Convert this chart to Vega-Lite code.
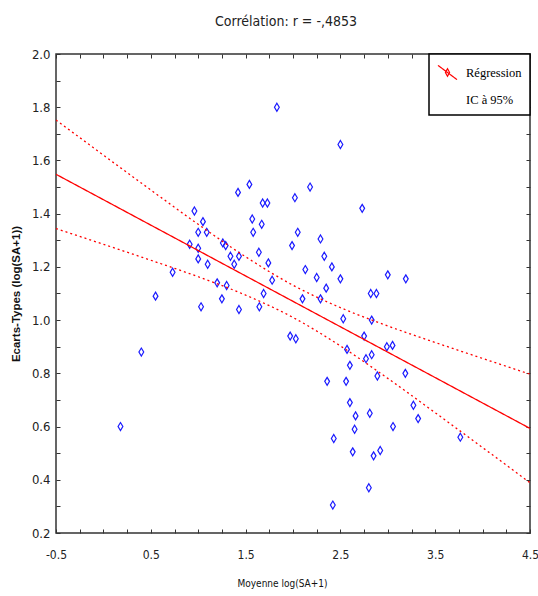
{
  "$schema": "https://vega.github.io/schema/vega-lite/v6.json",
  "width": 474,
  "height": 479,
  "autosize": "none",
  "padding": {"left": 56, "top": 54, "right": 8, "bottom": 63},
  "background": "white",
  "title": {
    "text": "Corrélation: r = -,4853",
    "font": "Liberation Sans Narrow, DejaVu Sans Condensed, sans-serif",
    "fontSize": 14,
    "fontWeight": "normal",
    "color": "#222222",
    "anchor": "middle",
    "baseline": "alphabetic",
    "offset": 8,
    "dx": -7
  },
  "config": {
    "view": {"stroke": "#333333", "strokeWidth": 1.5},
    "axis": {
      "grid": false,
      "domain": false,
      "tickColor": "#333333",
      "tickWidth": 1,
      "labelFont": "Liberation Sans Narrow, DejaVu Sans Condensed, sans-serif",
      "labelFontSize": 13,
      "labelColor": "#222222"
    },
    "legend": {"strokeWidth": 1.5}
  },
  "datasets": {
    "points": [
      {"moyenne": 1.83, "ecart": 1.80},
      {"moyenne": 0.96, "ecart": 1.41},
      {"moyenne": 1.42, "ecart": 1.48},
      {"moyenne": 1.54, "ecart": 1.51},
      {"moyenne": 2.02, "ecart": 1.46},
      {"moyenne": 1.68, "ecart": 1.44},
      {"moyenne": 1.73, "ecart": 1.44},
      {"moyenne": 1.05, "ecart": 1.37},
      {"moyenne": 1.57, "ecart": 1.38},
      {"moyenne": 1.67, "ecart": 1.36},
      {"moyenne": 1.00, "ecart": 1.33},
      {"moyenne": 1.09, "ecart": 1.33},
      {"moyenne": 1.58, "ecart": 1.33},
      {"moyenne": 2.05, "ecart": 1.33},
      {"moyenne": 2.50, "ecart": 1.66},
      {"moyenne": 2.18, "ecart": 1.50},
      {"moyenne": 2.73, "ecart": 1.42},
      {"moyenne": 2.29, "ecart": 1.305},
      {"moyenne": 0.91, "ecart": 1.285},
      {"moyenne": 1.00, "ecart": 1.27},
      {"moyenne": 1.26, "ecart": 1.29},
      {"moyenne": 1.29, "ecart": 1.28},
      {"moyenne": 1.64, "ecart": 1.255},
      {"moyenne": 1.99, "ecart": 1.28},
      {"moyenne": 1.34, "ecart": 1.24},
      {"moyenne": 1.43, "ecart": 1.24},
      {"moyenne": 1.00, "ecart": 1.23},
      {"moyenne": 1.10, "ecart": 1.21},
      {"moyenne": 1.38, "ecart": 1.21},
      {"moyenne": 1.74, "ecart": 1.215},
      {"moyenne": 1.78, "ecart": 1.15},
      {"moyenne": 0.73, "ecart": 1.18},
      {"moyenne": 1.20, "ecart": 1.14},
      {"moyenne": 1.30, "ecart": 1.13},
      {"moyenne": 1.69, "ecart": 1.10},
      {"moyenne": 0.55, "ecart": 1.09},
      {"moyenne": 1.25, "ecart": 1.08},
      {"moyenne": 1.03, "ecart": 1.05},
      {"moyenne": 1.43, "ecart": 1.04},
      {"moyenne": 1.645, "ecart": 1.05},
      {"moyenne": 1.97, "ecart": 0.94},
      {"moyenne": 2.03, "ecart": 0.93},
      {"moyenne": 0.40, "ecart": 0.88},
      {"moyenne": 2.33, "ecart": 1.24},
      {"moyenne": 2.13, "ecart": 1.19},
      {"moyenne": 2.41, "ecart": 1.20},
      {"moyenne": 2.25, "ecart": 1.16},
      {"moyenne": 2.50, "ecart": 1.155},
      {"moyenne": 3.00, "ecart": 1.17},
      {"moyenne": 3.19, "ecart": 1.155},
      {"moyenne": 2.35, "ecart": 1.12},
      {"moyenne": 2.82, "ecart": 1.10},
      {"moyenne": 2.88, "ecart": 1.10},
      {"moyenne": 2.10, "ecart": 1.08},
      {"moyenne": 2.29, "ecart": 1.08},
      {"moyenne": 2.53, "ecart": 1.005},
      {"moyenne": 2.83, "ecart": 1.00},
      {"moyenne": 2.75, "ecart": 0.94},
      {"moyenne": 2.99, "ecart": 0.90},
      {"moyenne": 3.05, "ecart": 0.905},
      {"moyenne": 2.57, "ecart": 0.89},
      {"moyenne": 2.83, "ecart": 0.87},
      {"moyenne": 2.77, "ecart": 0.855},
      {"moyenne": 2.60, "ecart": 0.83},
      {"moyenne": 2.89, "ecart": 0.79},
      {"moyenne": 3.185, "ecart": 0.80},
      {"moyenne": 2.36, "ecart": 0.77},
      {"moyenne": 2.56, "ecart": 0.77},
      {"moyenne": 2.60, "ecart": 0.69},
      {"moyenne": 2.66, "ecart": 0.64},
      {"moyenne": 2.81, "ecart": 0.65},
      {"moyenne": 3.27, "ecart": 0.68},
      {"moyenne": 3.32, "ecart": 0.63},
      {"moyenne": 2.65, "ecart": 0.59},
      {"moyenne": 3.055, "ecart": 0.60},
      {"moyenne": 2.43, "ecart": 0.555},
      {"moyenne": 3.765, "ecart": 0.56},
      {"moyenne": 2.63, "ecart": 0.505},
      {"moyenne": 2.92, "ecart": 0.51},
      {"moyenne": 2.85, "ecart": 0.49},
      {"moyenne": 2.80, "ecart": 0.37},
      {"moyenne": 2.42, "ecart": 0.305},
      {"moyenne": 0.18, "ecart": 0.60}
    ],
    "lines": [
      {"serie": "Régression", "courbe": "reg", "x": -0.5, "y": 1.548},
      {"serie": "Régression", "courbe": "reg", "x": 4.5, "y": 0.593},
      {"serie": "IC à 95%", "courbe": "sup", "x": -0.5, "y": 1.752},
      {"serie": "IC à 95%", "courbe": "sup", "x": 0.0, "y": 1.620},
      {"serie": "IC à 95%", "courbe": "sup", "x": 0.5, "y": 1.489},
      {"serie": "IC à 95%", "courbe": "sup", "x": 1.0, "y": 1.360},
      {"serie": "IC à 95%", "courbe": "sup", "x": 1.5, "y": 1.238},
      {"serie": "IC à 95%", "courbe": "sup", "x": 2.0, "y": 1.131},
      {"serie": "IC à 95%", "courbe": "sup", "x": 2.5, "y": 1.047},
      {"serie": "IC à 95%", "courbe": "sup", "x": 3.0, "y": 0.978},
      {"serie": "IC à 95%", "courbe": "sup", "x": 3.5, "y": 0.916},
      {"serie": "IC à 95%", "courbe": "sup", "x": 4.0, "y": 0.856},
      {"serie": "IC à 95%", "courbe": "sup", "x": 4.5, "y": 0.797},
      {"serie": "IC à 95%", "courbe": "inf", "x": -0.5, "y": 1.344},
      {"serie": "IC à 95%", "courbe": "inf", "x": 0.0, "y": 1.285},
      {"serie": "IC à 95%", "courbe": "inf", "x": 0.5, "y": 1.225},
      {"serie": "IC à 95%", "courbe": "inf", "x": 1.0, "y": 1.163},
      {"serie": "IC à 95%", "courbe": "inf", "x": 1.5, "y": 1.094},
      {"serie": "IC à 95%", "courbe": "inf", "x": 2.0, "y": 1.010},
      {"serie": "IC à 95%", "courbe": "inf", "x": 2.5, "y": 0.903},
      {"serie": "IC à 95%", "courbe": "inf", "x": 3.0, "y": 0.781},
      {"serie": "IC à 95%", "courbe": "inf", "x": 3.5, "y": 0.652},
      {"serie": "IC à 95%", "courbe": "inf", "x": 4.0, "y": 0.521},
      {"serie": "IC à 95%", "courbe": "inf", "x": 4.5, "y": 0.389}
    ]
  },
  "layer": [
    {
      "data": {"name": "points"},
      "mark": {
        "type": "point",
        "shape": "M0,-1L0.6,0L0,1L-0.6,0Z",
        "filled": false,
        "size": 64,
        "color": "#1a1aff",
        "strokeWidth": 1.2,
        "opacity": 1
      },
      "encoding": {
        "x": {
          "field": "moyenne",
          "type": "quantitative",
          "scale": {"domain": [-0.5, 4.5], "nice": false, "zero": false},
          "axis": {
            "orient": "bottom",
            "values": [-0.5, -0.25, 0, 0.25, 0.5, 0.75, 1, 1.25, 1.5, 1.75, 2, 2.25, 2.5, 2.75, 3, 3.25, 3.5, 3.75, 4, 4.25, 4.5],
            "labelExpr": "round((datum.value + 0.5) * 4) % 4 == 0 ? '' + datum.value : ''",
            "tickSize": -4,
            "labelPadding": 20,
            "labelFontSize": 12,
            "labelFlush": false,
            "labelOverlap": false,
            "title": "Moyenne log(SA+1)",
            "titleFont": "Liberation Sans Narrow, DejaVu Sans Condensed, sans-serif",
            "titleFontSize": 10,
            "titleFontWeight": "normal",
            "titleColor": "#111111",
            "titlePadding": 18,
            "titleX": 226
          }
        },
        "y": {
          "field": "ecart",
          "type": "quantitative",
          "scale": {"domain": [0.2, 2.0], "nice": false, "zero": false},
          "axis": {
            "orient": "left",
            "values": [0.2, 0.3, 0.4, 0.5, 0.6, 0.7, 0.8, 0.9, 1.0, 1.1, 1.2, 1.3, 1.4, 1.5, 1.6, 1.7, 1.8, 1.9, 2.0],
            "labelExpr": "round(datum.value * 10) % 2 == 0 ? format(datum.value, '.1f') : ''",
            "tickSize": -4,
            "labelPadding": 10,
            "labelFlush": false,
            "labelOverlap": false,
            "title": "Ecarts-Types (log(SA+1))",
            "titleFont": "Liberation Sans, Arial, sans-serif",
            "titleFontSize": 11.5,
            "titleFontWeight": "bold",
            "titleColor": "#111111",
            "titlePadding": 10
          }
        }
      }
    },
    {
      "data": {"name": "lines"},
      "mark": {"type": "line", "strokeWidth": 1.3, "interpolate": "monotone", "clip": true},
      "encoding": {
        "x": {
          "field": "x",
          "type": "quantitative",
          "scale": {"domain": [-0.5, 4.5], "nice": false, "zero": false},
          "axis": {
            "orient": "top",
            "values": [-0.5, -0.25, 0, 0.25, 0.5, 0.75, 1, 1.25, 1.5, 1.75, 2, 2.25, 2.5, 2.75, 3, 3.25, 3.5, 3.75, 4, 4.25, 4.5],
            "labels": false,
            "tickSize": -4,
            "title": null
          }
        },
        "y": {
          "field": "y",
          "type": "quantitative",
          "scale": {"domain": [0.2, 2.0], "nice": false, "zero": false},
          "axis": {
            "orient": "right",
            "values": [0.2, 0.3, 0.4, 0.5, 0.6, 0.7, 0.8, 0.9, 1.0, 1.1, 1.2, 1.3, 1.4, 1.5, 1.6, 1.7, 1.8, 1.9, 2.0],
            "labels": false,
            "tickSize": -4,
            "title": null
          }
        },
        "detail": {"field": "courbe", "type": "nominal"},
        "color": {
          "field": "serie",
          "type": "nominal",
          "scale": {"domain": ["Régression", "IC à 95%"], "range": ["#ff0000", "#ff0000"]},
          "legend": {
            "title": null,
            "orient": "top-right",
            "offset": 0,
            "padding": 8,
            "strokeColor": "#000000",
            "fillColor": "#ffffff",
            "labelFont": "Liberation Serif, Times New Roman, serif",
            "labelFontSize": 12.5,
            "labelColor": "#000000",
            "labelOffset": 8,
            "symbolType": "M-1,-0.75L1,0.75M0,-0.4L0.22,0L0,0.4L-0.22,0Z",
            "symbolSize": 361,
            "symbolStrokeWidth": 1.2,
            "symbolStrokeColor": "#ff0000",
            "rowPadding": 6,
            "encode": {
              "symbols": {
                "update": {
                  "opacity": {"signal": "datum.value === 'IC à 95%' ? 0 : 1"},
                  "fill": {"value": "transparent"}
                }
              }
            }
          }
        },
        "strokeDash": {
          "field": "serie",
          "type": "nominal",
          "scale": {"domain": ["Régression", "IC à 95%"], "range": [[1, 0], [2, 3]]},
          "legend": null
        }
      }
    }
  ],
  "resolve": {"axis": {"x": "independent", "y": "independent"}}
}
